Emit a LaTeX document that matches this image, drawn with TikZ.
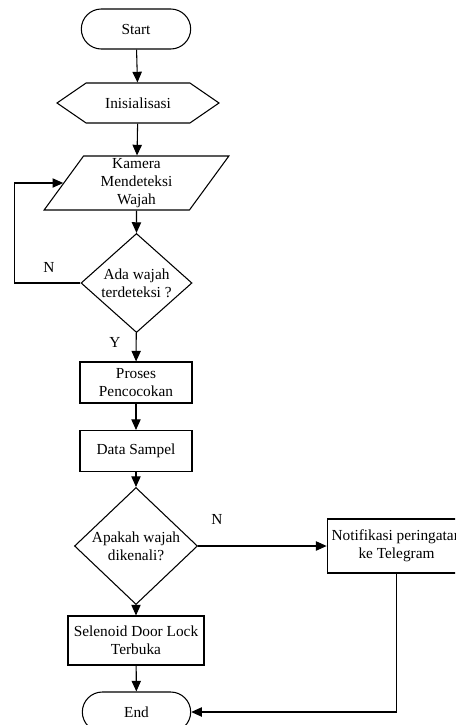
\documentclass[tikz,border=0pt]{standalone}
\usepackage{fontspec}
\setmainfont{Liberation Serif}
\usetikzlibrary{positioning,arrows.meta,shapes.geometric,shapes.misc,shapes.symbols}
\tikzset{%
  box/.style={draw, line width=0.8pt, align=center, inner sep=1pt,
    font=\fontsize{11.5}{13.5}\selectfont},
  terminal/.style={box, rounded rectangle, minimum width=84pt, minimum height=30pt},% start / end
  prepare/.style={box, signal, signal to=west and east, signal pointer angle=69,
    minimum width=121.5pt, minimum height=30pt},% preparation
  io/.style={box, trapezium, trapezium left angle=62, trapezium right angle=118,
    trapezium stretches=true, minimum width=140pt, minimum height=40.5pt},% input
  decision/.style={box, diamond, inner sep=0pt},
  process/.style={box, rectangle, minimum width=84pt, minimum height=30.75pt},
  flow/.style={line width=0.8pt, -{Triangle[length=8pt,width=7pt]}},% connector
  answer/.style={font=\fontsize{11.5}{13.5}\selectfont}% Y / N
}

\begin{document}
\begin{tikzpicture}[x=0.75pt, y=-0.75pt]
\useasboundingbox (0,0) rectangle (455,725);
\clip (0,0) rectangle (455,725);

\node[terminal] (a) at (136,29) {Start};
\node[prepare] (b) at (138,103) {Inisialisasi};
\node[io] (c) at (136.5,183) {Kamera\\Mendeteksi\\Wajah};
\node[decision, minimum width=83.25pt, minimum height=67.5pt] (d) at (136.5,283) {Ada wajah\\terdeteksi ?};
\node[process] (e) at (136,382.5) {Proses\\Pencocokan};
\node[process] (f) at (136,451) {Data Sampel};
\node[decision, minimum width=92.25pt, minimum height=66pt] (g) at (136,546) {Apakah wajah\\dikenali?};
\node[process, minimum width=102pt, minimum height=36.75pt] (h) at (136,640.5) {Selenoid Door Lock\\Terbuka};
\node[terminal, minimum width=83.25pt] (i) at (136.5,712) {End};
\node[process, minimum width=104pt, minimum height=40.5pt, inner sep=0pt] (j) at (396.5,546) {Notifikasi peringatan\\ke Telegram};

\node[answer] (n1) at (49,267) {N};
\node[answer] (y1) at (115,342) {Y};
\node[answer] (n2) at (217,519) {N};

\draw[flow] (a) -- (b);
\draw[flow] (b) -- (c);
\draw[flow] (c) -- (d);
\draw[flow] (d.west) -- ++(-66,0) |- (c);
\draw[flow] (d) -- (e);
\draw[flow] (e) -- (f);
\draw[flow] (f) -- (g);
\draw[flow] (g) -- (h);
\draw[flow] (h) -- (i);
\draw[flow] (g) -- (j);
\draw[flow] (j.south) |- (i);

\end{tikzpicture}
\end{document}
